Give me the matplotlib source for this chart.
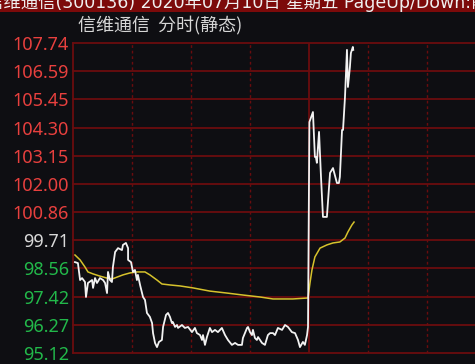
import matplotlib
matplotlib.use("Agg")
import matplotlib.pyplot as plt

plt.rcParams['font.family'] = ['Noto Sans CJK SC', 'DejaVu Sans']

# minutes after 9:30 (afternoon continues at 120 = 13:00), price
price_min = [1.0, 2.5, 3.6, 4.6, 6.1, 6.6, 7.6, 9.7, 10.2, 11.2, 12.2, 13.7, 15.3, 16.3,
             17.3, 17.8, 18.8, 19.8, 20.3, 21.4, 22.9, 24.9, 25.4, 26.9, 28.0, 28.0, 29.5,
             30.5, 31.5, 32.5, 33.0, 34.1, 35.6, 36.6, 37.6, 39.1, 40.2, 40.7, 41.7, 42.7,
             43.7, 45.2, 45.8, 47.3, 48.3, 49.3, 50.3, 50.8, 51.9, 52.9, 53.4, 55.4, 56.9,
             58.5, 60.5, 62.0, 63.0, 64.6, 65.6, 66.1, 67.1, 68.1, 69.6, 70.7, 72.2, 73.7,
             75.7, 77.3, 78.8, 80.8, 82.4, 83.9, 85.9, 86.4, 88.5, 89.0, 90.0, 91.0, 91.5,
             92.5, 93.5, 94.1, 96.1, 97.6, 99.1, 100.2, 101.7, 102.7, 104.2, 106.3, 107.8,
             109.3, 111.3, 112.9, 114.4, 115.4, 116.9, 117.9, 119.0, 119.5,
             120.2, 122.0, 123.0, 123.5, 124.0, 125.1, 126.1, 127.1, 128.1, 129.1, 130.7,
             132.2, 134.2, 135.2, 135.7, 136.8, 137.3, 138.3, 139.3, 139.8, 140.8, 141.3,
             142.3, 142.5]
price = [98.82, 98.78, 98.09, 98.17, 98.01, 97.40, 97.97, 98.09, 97.77, 98.17, 97.97,
         98.17, 98.09, 97.97, 97.56, 98.42, 98.09, 98.01, 98.62, 99.23, 99.39, 99.31,
         99.52, 99.60, 99.39, 98.91, 98.82, 98.42, 98.50, 98.09, 98.30, 97.89, 97.40,
         97.28, 96.75, 96.59, 96.34, 95.93, 95.53, 95.36, 95.57, 95.65, 96.18, 96.67,
         96.75, 96.59, 96.34, 96.38, 96.18, 96.26, 96.14, 96.26, 96.14, 96.18, 95.97,
         96.14, 95.93, 95.85, 95.65, 95.85, 95.45, 95.77, 96.14, 95.97, 96.06, 95.97,
         96.14, 95.85, 95.65, 95.45, 95.53, 95.45, 95.45, 95.73, 96.14, 96.18, 95.97,
         95.85, 96.06, 95.73, 95.65, 95.77, 95.53, 95.45, 95.85, 95.93, 95.93, 95.85,
         96.14, 96.06, 96.26, 96.18, 95.97, 95.93, 95.65, 95.36, 95.57, 95.45, 95.85,
         96.18,
         104.52, 104.93, 103.10, 103.10, 102.86, 104.12, 102.29, 100.66, 100.66, 100.66,
         102.45, 102.65, 102.04, 102.04, 102.29, 104.20, 104.20, 105.54, 107.46, 105.95,
         106.76, 107.33, 107.58, 107.46]

avg_min = [1.0, 3.6, 6.1, 7.6, 10.2, 13.7, 17.3, 19.8, 22.4, 25.4, 29.0, 32.5, 36.6,
           39.1, 42.7, 45.2, 49.3, 54.4, 61.0, 69.6, 78.3, 86.4, 95.1, 101.7, 111.8,
           119.5, 120.5, 121.5, 123.0, 125.6, 129.1, 132.2, 135.7, 138.3, 139.8, 141.8,
           142.9]
avg_price = [99.11, 98.91, 98.62, 98.42, 98.34, 98.25, 98.17, 98.13, 98.21, 98.30,
             98.38, 98.42, 98.42, 98.30, 98.09, 97.93, 97.89, 97.85, 97.77, 97.64,
             97.56, 97.48, 97.40, 97.32, 97.32, 97.36, 97.97, 98.50, 99.03, 99.39,
             99.52, 99.60, 99.64, 99.80, 100.05, 100.33, 100.45]

y_ticks = [107.74, 106.59, 105.45, 104.30, 103.15, 102.00, 100.86, 99.71,
           98.56, 97.42, 96.27, 95.12]
prev_close = 99.71

title_bar = "信维通信(300136) 2020年07月10日 星期五 PageUp/Down:前后日"
title_sub = "信维通信  分时(静态)"

bg = '#0e0e12'
grid_red = '#6a0c0e'

fig = plt.figure(figsize=(4.75, 3.64), dpi=100, facecolor=bg)
W, H = 475, 364

# header bar (text is cut at the top like the screenshot)
fig.patches.append(plt.Rectangle((0, 1 - 12 / H), 1, 12 / H, transform=fig.transFigure,
                                 facecolor='#7c0a0a', edgecolor='none'))
fig.text(-14 / W, 1 - 2 / H, title_bar, color='#f0f0f0', fontsize=12.5,
         family=['DejaVu Sans', 'Noto Sans CJK SC'], ha='left', va='center')
fig.text(78 / W, 1 - 25 / H, title_sub, color='#d6d6d6', fontsize=13,
         ha='left', va='center')

ax = fig.add_axes([73 / W, 11 / H, 472 / W, 310 / H], facecolor=bg)
ax.set_xlim(0, 240)
ax.set_ylim(95.12, 107.74)

for v in y_ticks:
    ax.axhline(v, color=grid_red, lw=1.3, clip_on=False, zorder=1)
for m in [30, 60, 90, 150, 180, 210]:
    ax.axvline(m, color=grid_red, lw=1.0, ls=(0, (2, 2)), zorder=1)
ax.axvline(120, color=grid_red, lw=1.3, zorder=1)

ax.plot(avg_min, avg_price, color='#d6c22c', lw=1.1, zorder=3)
ax.plot(price_min, price, color='#f2f2f2', lw=1.3, zorder=4)

for s in ['top', 'right', 'bottom']:
    ax.spines[s].set_visible(False)
ax.spines['left'].set_color(grid_red)
ax.spines['left'].set_linewidth(1.3)
ax.set_xticks([])
ax.set_yticks(y_ticks)
ax.set_yticklabels([f"{v:.2f}" for v in y_ticks], family=['Noto Sans', 'DejaVu Sans'],
                   fontsize=13)
ax.tick_params(axis='y', length=0, pad=3)
for lab, v in zip(ax.get_yticklabels(), y_ticks):
    if v > prev_close:
        lab.set_color('#e8403e')
    elif v < prev_close:
        lab.set_color('#22b84a')
    else:
        lab.set_color('#d8d8d8')

fig.savefig('out.png', dpi=100, facecolor=bg)
